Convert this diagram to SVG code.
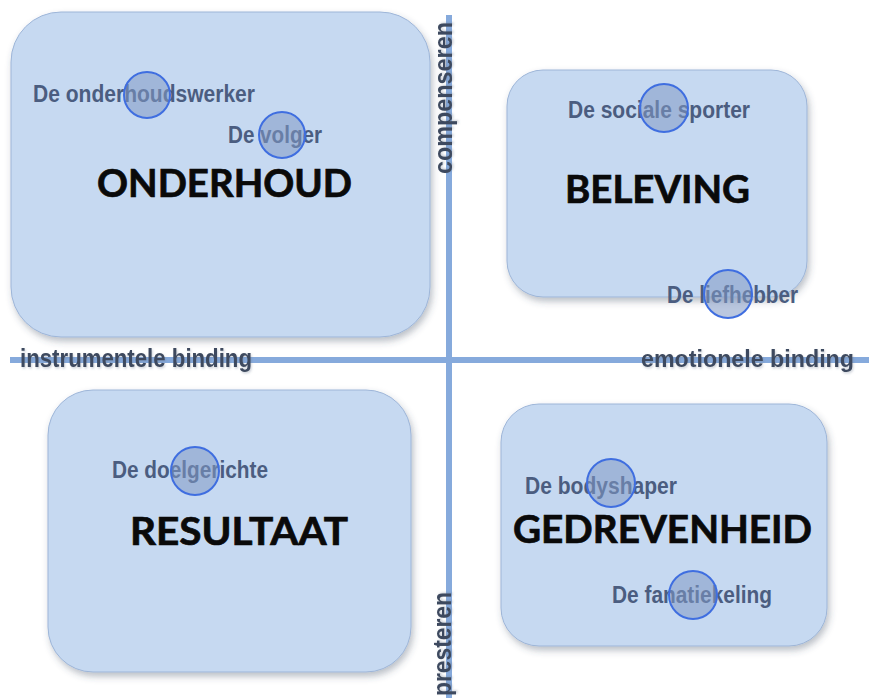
<svg xmlns="http://www.w3.org/2000/svg" width="869" height="698" viewBox="0 0 869 698">
<defs>
<filter id="sh" x="-10%" y="-10%" width="125%" height="125%">
<feDropShadow dx="2" dy="4" stdDeviation="3.5" flood-color="#3a4a60" flood-opacity="0.35"/>
</filter>
<filter id="tsh" x="-10%" y="-40%" width="120%" height="200%">
<feDropShadow dx="1" dy="1.5" stdDeviation="1" flood-color="#6a7a90" flood-opacity="0.35"/>
</filter>
<style>
.box{fill:#c6d9f1;stroke:#9db5d8;stroke-width:1;filter:url(#sh)}
.big{font-family:Lato,"Open Sans","Liberation Sans",sans-serif;font-weight:bold;font-size:39px;fill:#0a0a0a;stroke:#0a0a0a;stroke-width:0.7}
.lbl{font-family:"Liberation Sans",Arial,sans-serif;font-weight:bold;font-size:23px;fill:#4b5d80}
.dot{fill:#8199c4;fill-opacity:0.55;stroke:#3f6ee0;stroke-width:2}
.axis{stroke:#86aadc;stroke-width:6;fill:none}
.ax{font-family:"Liberation Sans",Arial,sans-serif;font-weight:bold;font-size:25px;fill:#3e4a5e;filter:url(#tsh)}
</style>
</defs>
<rect width="869" height="698" fill="#ffffff"/>
<g id="connectors">
<line class="axis" x1="449" y1="15" x2="449" y2="698"/>
<line class="axis" x1="10" y1="360" x2="869" y2="360"/>
<text class="ax" x="20" y="367" textLength="232" lengthAdjust="spacingAndGlyphs">instrumentele binding</text>
<text class="ax" x="641" y="367" textLength="213" lengthAdjust="spacingAndGlyphs" style="font-size:24px">emotionele binding</text>
<text class="ax" transform="translate(452,174) rotate(-90)" x="0" y="0" textLength="152" lengthAdjust="spacingAndGlyphs">compenseren</text>
<text class="ax" transform="translate(451,696) rotate(-90)" x="0" y="0" textLength="104" lengthAdjust="spacingAndGlyphs">presteren</text>
</g>
<g id="onderhoud">
<rect class="box" x="11" y="12" width="419" height="325" rx="50" ry="50"/>
<text class="big" x="97" y="197" textLength="255" lengthAdjust="spacingAndGlyphs">ONDERHOUD</text>
<text class="lbl" x="33" y="102" textLength="222" lengthAdjust="spacingAndGlyphs">De onderhoudswerker</text>
<circle class="dot" cx="147" cy="95" r="23"/>
<text class="lbl" x="228" y="143" textLength="94" lengthAdjust="spacingAndGlyphs">De volger</text>
<circle class="dot" cx="282" cy="135" r="23"/>
</g>
<g id="beleving">
<rect class="box" x="507" y="70" width="300" height="227" rx="36" ry="36"/>
<text class="big" x="565" y="203" textLength="185" lengthAdjust="spacingAndGlyphs">BELEVING</text>
<text class="lbl" x="568" y="118" textLength="182" lengthAdjust="spacingAndGlyphs">De sociale sporter</text>
<circle class="dot" cx="664" cy="108" r="24"/>
<text class="lbl" x="667" y="303" textLength="131" lengthAdjust="spacingAndGlyphs">De liefhebber</text>
<circle class="dot" cx="728" cy="294" r="24"/>
</g>
<g id="resultaat">
<rect class="box" x="48" y="390" width="363" height="282" rx="45" ry="45"/>
<text class="big" x="130" y="545" textLength="218" lengthAdjust="spacingAndGlyphs">RESULTAAT</text>
<text class="lbl" x="112" y="478" textLength="156" lengthAdjust="spacingAndGlyphs">De doelgerichte</text>
<circle class="dot" cx="195" cy="471" r="24"/>
</g>
<g id="gedrevenheid">
<rect class="box" x="501" y="404" width="326" height="242" rx="38" ry="38"/>
<text class="big" x="513" y="543" textLength="299" lengthAdjust="spacingAndGlyphs">GEDREVENHEID</text>
<text class="lbl" x="525" y="494" textLength="152" lengthAdjust="spacingAndGlyphs">De bodyshaper</text>
<circle class="dot" cx="611" cy="483" r="24"/>
<text class="lbl" x="612" y="603" textLength="160" lengthAdjust="spacingAndGlyphs">De fanatiekeling</text>
<circle class="dot" cx="693" cy="595" r="24"/>
</g>
</svg>
